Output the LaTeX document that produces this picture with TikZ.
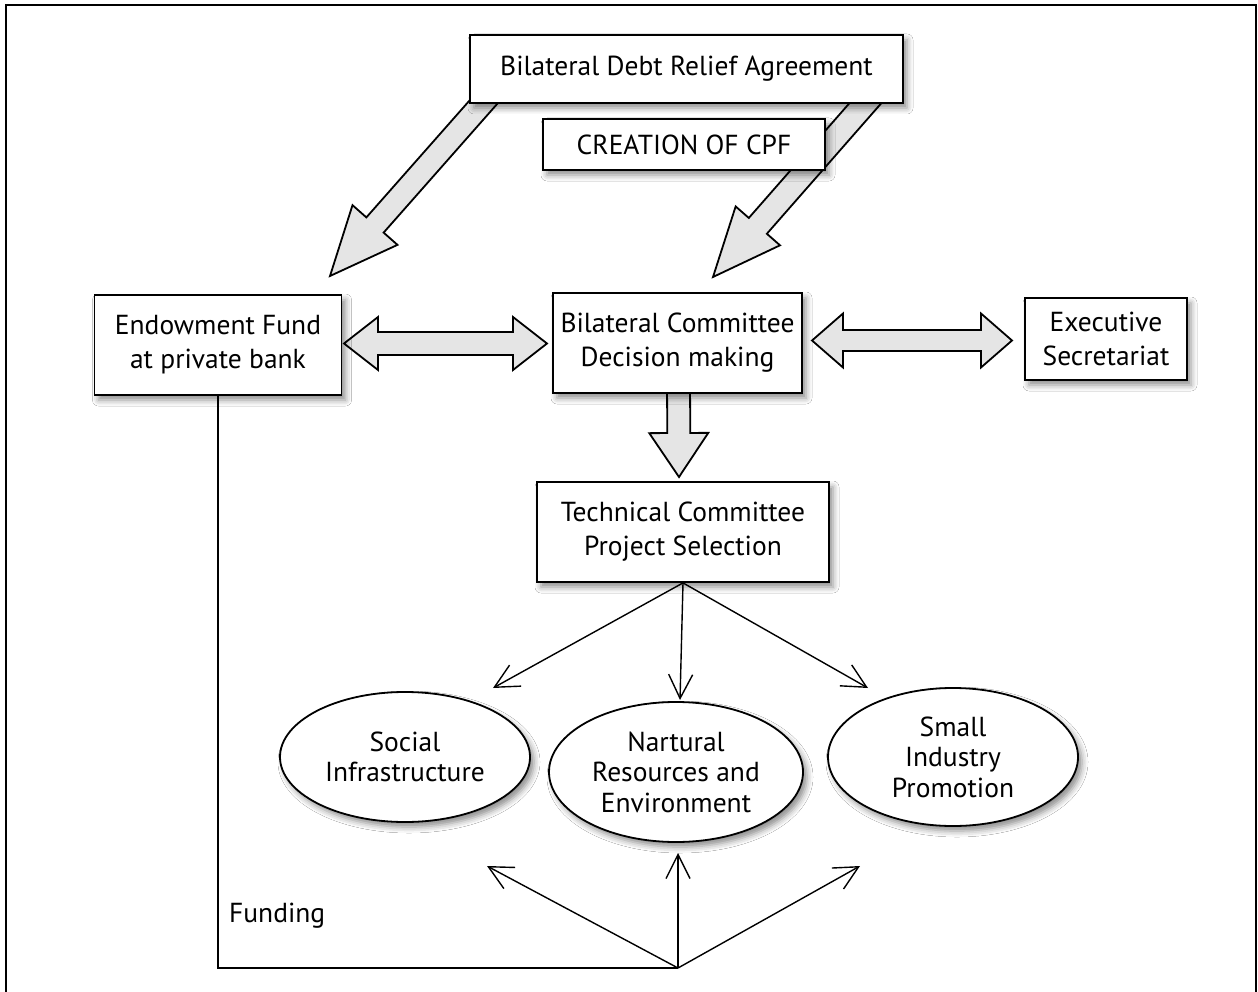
\documentclass[tikz,border=0pt]{standalone}
\usepackage{fontspec}
\setmainfont{PT Sans}
\usetikzlibrary{calc,shapes.geometric,shadows.blur,arrows.meta,backgrounds}

\newcommand\boxfont{\fontsize{27.5}{34}\selectfont}
\newcommand\ovalfont{\fontsize{27.5}{30.5}\selectfont}

% Block arrow with one head: start, tip, shaft half-width, head half-width, head length
\newcommand\blockarrow[5]{%
  \draw[fat] let \p1=(#1), \p2=(#2), \n1={veclen(\x2-\x1,\y2-\y1)},
      \n2={(\x2-\x1)/\n1}, \n3={(\y2-\y1)/\n1}, \n4={\n1-#5} in
    ({\x1-#3*\n3},{\y1+#3*\n2}) --
    ({\x1+\n4*\n2-#3*\n3},{\y1+\n4*\n3+#3*\n2}) --
    ({\x1+\n4*\n2-#4*\n3},{\y1+\n4*\n3+#4*\n2}) --
    (\p2) --
    ({\x1+\n4*\n2+#4*\n3},{\y1+\n4*\n3-#4*\n2}) --
    ({\x1+\n4*\n2+#3*\n3},{\y1+\n4*\n3-#3*\n2}) --
    ({\x1+#3*\n3},{\y1-#3*\n2}) -- cycle;}

% Block arrow with heads at both ends
\newcommand\blockdarrow[5]{%
  \draw[fat] let \p1=(#1), \p2=(#2), \n1={veclen(\x2-\x1,\y2-\y1)},
      \n2={(\x2-\x1)/\n1}, \n3={(\y2-\y1)/\n1}, \n4={\n1-#5} in
    (\p1) --
    ({\x1+#5*\n2-#4*\n3},{\y1+#5*\n3+#4*\n2}) --
    ({\x1+#5*\n2-#3*\n3},{\y1+#5*\n3+#3*\n2}) --
    ({\x1+\n4*\n2-#3*\n3},{\y1+\n4*\n3+#3*\n2}) --
    ({\x1+\n4*\n2-#4*\n3},{\y1+\n4*\n3+#4*\n2}) --
    (\p2) --
    ({\x1+\n4*\n2+#4*\n3},{\y1+\n4*\n3-#4*\n2}) --
    ({\x1+\n4*\n2+#3*\n3},{\y1+\n4*\n3-#3*\n2}) --
    ({\x1+#5*\n2+#3*\n3},{\y1+#5*\n3-#3*\n2}) --
    ({\x1+#5*\n2+#4*\n3},{\y1+#5*\n3-#4*\n2}) -- cycle;}

\tikzset{
  softshadow/.style={blur shadow={shadow xshift=4pt, shadow yshift=-5pt,
      shadow blur radius=6pt, shadow opacity=45}},
  box/.style={draw, line width=1.8pt, fill=white, inner sep=0pt, align=center,
      font=\boxfont, softshadow},
  oval/.style={ellipse, draw, line width=1.8pt, fill=white, inner sep=0pt,
      align=center, font=\ovalfont, softshadow},
  fat/.style={draw, line width=1.8pt, fill=black!10, line join=miter},
  link/.style={line width=1.4pt},
  thinarrow/.style={link, -{Straight Barb[length=24pt,width=24pt]}},
}

\begin{document}
\begin{tikzpicture}[x=1pt,y=-1pt]
\useasboundingbox (0,0) rectangle (1258,992);

% outer frame
\draw[line width=2.5pt] (6,1010) -- (6,5) -- (1256,5) -- (1256,1010);

% boxes
\node[box, minimum width=433pt, minimum height=68pt] (A) at (686.5,69) {Bilateral Debt Relief Agreement};
\node[box, minimum width=282pt, minimum height=51pt] (C) at (684,144.5) {CREATION OF CPF};
\node[box, minimum width=247pt, minimum height=100pt] (E) at (218,345) {Endowment Fund\\at private bank};
\node[box, minimum width=249pt, minimum height=100pt] (B) at (677.5,343) {Bilateral Committee\\Decision making};
\node[box, minimum width=162pt, minimum height=82pt] (X) at (1106,339) {Executive\\Secretariat};
\node[box, minimum width=292pt, minimum height=100pt] (T) at (683,532) {Technical Committee\\Project Selection};

% project areas
\node[oval, minimum width=250pt, minimum height=130pt] (S) at (405,757) {Social\\Infrastructure};
\node[oval, minimum width=254pt, minimum height=140pt] (N) at (676,772) {Nartural\\Resources and\\Environment};
\node[oval, minimum width=250pt, minimum height=138pt] (M) at (953,757) {Small\\Industry\\Promotion};

% block arrows, kept behind the boxes
\coordinate (a1s) at ($(A.south west)+(26,-15)$);
\coordinate (a1e) at (330,276);
\coordinate (a2s) at ($(A.south east)+(-26,-15)$);
\coordinate (a2e) at (713,277);
\coordinate (d1a) at (344,343.5);
\coordinate (d1b) at (547,343.5);
\coordinate (d2a) at (812,340.5);
\coordinate (d2b) at (1012,340.5);
\coordinate (dn1) at ($(B.south)+(1,-13)$);
\coordinate (dn2) at (679,477);
\begin{scope}[on background layer]
  \fill[white] (0,0) rectangle (1258,992);
  \blockarrow{a1s}{a1e}{11.5}{30}{68}
  \blockarrow{a2s}{a2e}{12}{29.5}{68}
  \blockdarrow{d1a}{d1b}{11.5}{26.5}{34}
  \blockdarrow{d2a}{d2b}{10.5}{27}{31}
  \blockarrow{dn1}{dn2}{11.5}{29.5}{44}
\end{scope}

% selection fan
\coordinate (ts) at (493,688);
\coordinate (tn) at (680,700);
\coordinate (tm) at (868,688);
\draw[thinarrow] (T.south) -- (ts);
\draw[thinarrow] (T.south) -- (tn);
\draw[thinarrow] (T.south) -- (tm);

% funding line and fan
\coordinate (hub) at (678,968);
\coordinate (bs) at (487,866);
\coordinate (bn) at (678,853);
\coordinate (bm) at (860,866);
\draw[link] (E.south) |- (hub);
\draw[thinarrow] (hub) -- (bs);
\draw[thinarrow] (hub) -- (bn);
\draw[thinarrow] (hub) -- (bm);
\node[font=\boxfont, anchor=west, inner sep=0pt] (fund) at (229,916) {Funding};
\end{tikzpicture}
\end{document}
